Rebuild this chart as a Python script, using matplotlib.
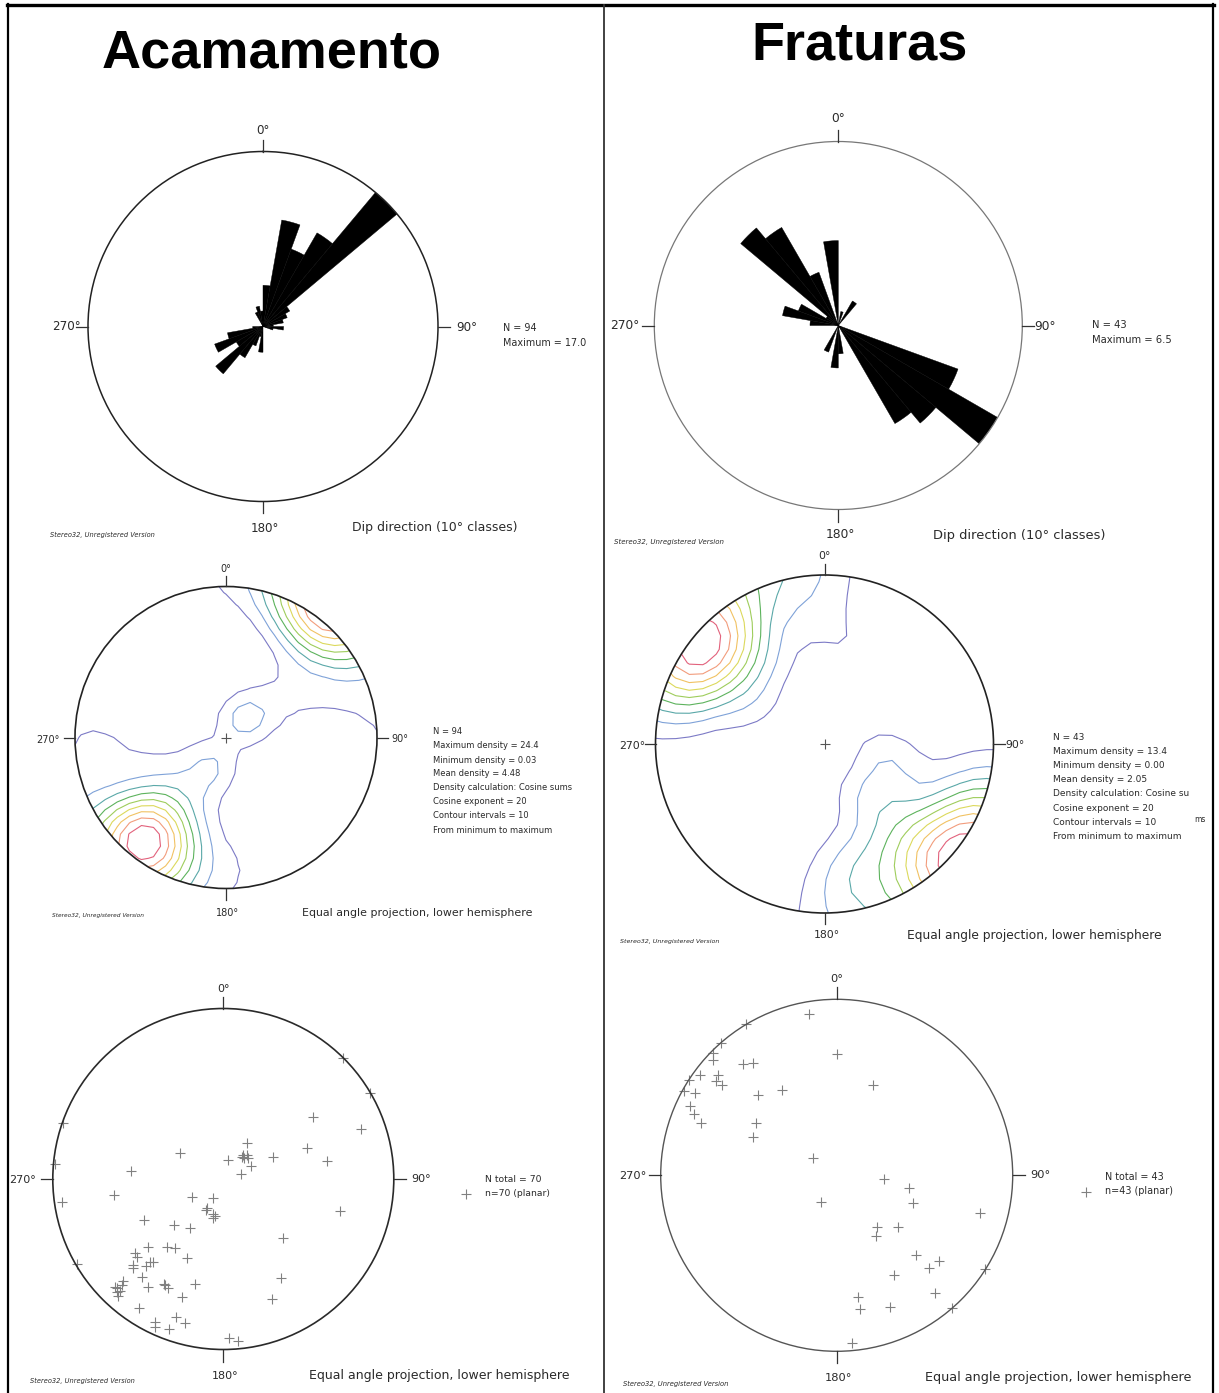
import numpy as np
import matplotlib
matplotlib.use("Agg")
import matplotlib.pyplot as plt
from matplotlib.patches import Circle
from matplotlib.lines import Line2D

W, H = 1219, 1393
DPI = 100

# ---------------------------------------------------------------- data
# dip-direction classes (10 degree bins, start of each class)
rose_bins = np.arange(0, 360, 10)

# counts per class (half counts for values on class boundaries)
bedding_dipdir_counts = [4, 10.5, 8, 10.5, 17, 3, 2.5, 2, 1, 2, 1,
                         0, 0, 0, 0, 0, 0, 0,
                         2.5, 1, 2, 3.5, 6, 3, 5, 3.5, 1,
                         0, 0, 0, 0, 0, 0,
                         1.5, 2, 1.5]
fracture_dipdir_counts = [0, 0.5, 0, 1,
                          0, 0, 0, 0, 0, 0, 0,
                          4.5, 6.5, 4.5, 4,
                          0, 0, 1, 1.5, 0, 1,
                          0, 0, 0, 0, 0, 0,
                          1, 2, 1.5, 0.5, 4.5, 4, 2, 0, 3]

# poles to planes, equal-angle lower-hemisphere net coordinates (x = E, y = N)
bedding_pole_x = [0.861, 0.70, 0.528, 0.808, 0.489, 0.611, 0.294, 0.141, 0.108, 0.137,
                  0.147, 0.029, 0.162, 0.104, -0.254, -0.542, -0.642, -0.945, -0.988, -0.94,
                  -0.182, -0.063, -0.104, -0.059, -0.063, -0.049, -0.464, -0.288, -0.196, 0.685,
                  0.352, -0.440, -0.333, -0.284, -0.215, -0.515, -0.411, -0.454, -0.528, -0.474,
                  -0.591, -0.636, -0.607, -0.616, -0.622, -0.440, -0.348, -0.325, -0.166, -0.245,
                  -0.493, -0.401, -0.401, -0.280, -0.225, -0.317, 0.033, 0.088, 0.337, 0.288,
                  -0.86, -0.532, -0.098, 0.117, -0.597, -0.342, -0.431, 0.121, -0.626, -0.509]
bedding_pole_y = [0.503, 0.71, 0.366, 0.294, 0.180, 0.108, 0.131, 0.209, 0.131, 0.141,
                  0.125, 0.112, 0.076, 0.029, 0.155, 0.047, -0.094, -0.133, 0.086, 0.33,
                  -0.108, -0.110, -0.182, -0.207, -0.231, -0.215, -0.241, -0.270, -0.290, -0.186,
                  -0.348, -0.397, -0.397, -0.403, -0.466, -0.436, -0.489, -0.509, -0.524, -0.573,
                  -0.599, -0.636, -0.658, -0.687, -0.642, -0.636, -0.613, -0.642, -0.618, -0.691,
                  -0.759, -0.838, -0.867, -0.812, -0.847, -0.877, -0.935, -0.951, -0.579, -0.705,
                  -0.50, -0.505, -0.172, 0.141, -0.622, -0.622, -0.485, 0.125, -0.661, -0.456]

# further bedding readings, used in the density count only
bedding_extra_x = [0.55, 0.60, 0.62, 0.50, 0.66, 0.56, 0.68,
                   -0.55, -0.52, -0.58, -0.50, -0.56, -0.48, -0.60, -0.45, -0.53, -0.57, -0.62,
                   0.35, 0.45, 0.25, -0.75, -0.35, -0.15]
bedding_extra_y = [0.82, 0.78, 0.74, 0.84, 0.72, 0.76, 0.66,
                   -0.75, -0.72, -0.70, -0.78, -0.66, -0.70, -0.74, -0.80, -0.76, -0.73, -0.68,
                   0.35, 0.45, 0.22, 0.02, -0.15, -0.35]

fracture_pole_x = [-0.159, 0.000, 0.209, -0.313, -0.531, -0.478, -0.702, -0.702, -0.66, -0.677,
                   -0.683, -0.649, -0.778, -0.84, -0.806, -0.87, -0.835, -0.812, -0.770, -0.450,
                   -0.459, -0.474, -0.137, -0.089, 0.266, 0.410, 0.436, 0.812, 0.228, 0.224,
                   0.351, 0.452, 0.579, 0.522, 0.326, 0.560, 0.120, 0.133, 0.304, 0.085,
                   0.845, 0.657, -0.515]
fracture_pole_y = [0.917, 0.691, 0.514, 0.486, 0.632, 0.638, 0.694, 0.657, 0.75, 0.571,
                   0.537, 0.514, 0.571, 0.54, 0.467, 0.48, 0.391, 0.347, 0.300, 0.454,
                   0.296, 0.220, 0.097, -0.154, -0.023, -0.070, -0.159, -0.216, -0.292, -0.345,
                   -0.292, -0.450, -0.486, -0.526, -0.564, -0.668, -0.691, -0.757, -0.751, -0.951,
                   -0.535, -0.754, 0.857]

bedding_density_stats = ["Maximum density = 24.4", "Minimum density = 0.03",
                         "Mean density = 4.48", "Density calculation: Cosine sums",
                         "Cosine exponent = 20", "Contour intervals = 10",
                         "From minimum to maximum"]
fracture_density_stats = ["Maximum density = 13.4", "Minimum density = 0.00",
                          "Mean density = 2.05", "Density calculation: Cosine su",
                          "Cosine exponent = 20", "Contour intervals = 10",
                          "From minimum to maximum"]

COS_EXPONENT = 20
CONTOUR_COLORS = ['#7c7ac6', '#7fa2d8', '#5aa8a8', '#5db35d', '#9fcd5c',
                  '#dcd95c', '#f1c263', '#f29c7c', '#e2627c']

NOTE = "Stereo32, Unregistered Version"

# ---------------------------------------------------------------- helpers
fig = plt.figure(figsize=(W / DPI, H / DPI), dpi=DPI)
fig.patch.set_facecolor('white')
plt.rcParams['font.family'] = ['DejaVu Sans']


def fx(x):
    return x / W


def fy(y):
    return 1 - y / H


def ptext(x, y, s, size, ha='left', va='center', **kw):
    fig.text(fx(x), fy(y), s, fontsize=size, ha=ha, va=va, **kw)


def pline(x0, y0, x1, y1, lw=1.0, color='#222222'):
    fig.add_artist(Line2D([fx(x0), fx(x1)], [fy(y0), fy(y1)],
                          transform=fig.transFigure, lw=lw, color=color))


def rect_for(cx, cy, r):
    return [fx(cx - r), fy(cy + r), 2 * r / W, 2 * r / H]


def cardinal_ticks(cx, cy, r, length, lw, color):
    pline(cx, cy - r, cx, cy - r - length, lw, color)
    pline(cx, cy + r, cx, cy + r + length, lw, color)
    pline(cx - r, cy, cx - r - length, cy, lw, color)
    pline(cx + r, cy, cx + r + length, cy, lw, color)


def net_to_vec(x, y):
    x = np.asarray(x, float)
    y = np.asarray(y, float)
    r = np.hypot(x, y)
    phi = 2 * np.arctan(r)
    az = np.arctan2(x, y)
    return np.stack([np.sin(phi) * np.sin(az), np.sin(phi) * np.cos(az), np.cos(phi)], -1)


def rose(cx, cy, r, counts, circ_color, circ_lw):
    ax = fig.add_axes(rect_for(cx, cy, r), projection='polar')
    ax.set_theta_zero_location('N')
    ax.set_theta_direction(-1)
    counts = np.asarray(counts, float)
    keep = counts > 0
    ax.bar(np.radians(rose_bins[keep] + 5), counts[keep], width=np.radians(10),
           bottom=0, color='black', edgecolor='black', linewidth=0.3, align='center')
    ax.set_ylim(0, counts.max())
    ax.set_xticks([])
    ax.set_yticks([])
    ax.grid(False)
    ax.spines['polar'].set_linewidth(circ_lw)
    ax.spines['polar'].set_color(circ_color)
    return counts


def net_axes(cx, cy, r, circ_color, circ_lw):
    ax = fig.add_axes(rect_for(cx, cy, r))
    ax.set_xlim(-1, 1)
    ax.set_ylim(-1, 1)
    ax.set_aspect('equal')
    ax.axis('off')
    circ = Circle((0, 0), 1, fill=False, ec=circ_color, lw=circ_lw, clip_on=False, zorder=5)
    ax.add_patch(circ)
    return ax


def density_contours(ax, px, py):
    g = np.linspace(-1.04, 1.04, 27)
    X, Y = np.meshgrid(g, g)
    grid = net_to_vec(X, Y)
    poles = net_to_vec(px, py)
    cosang = np.abs(grid @ poles.T)
    D = (cosang ** COS_EXPONENT).sum(-1)
    inside = np.hypot(X, Y) <= 1.0
    levels = np.linspace(D[inside].min(), D[inside].max(), 11)[1:-1]
    cs = ax.contour(X, Y, D, levels=levels, colors=CONTOUR_COLORS, linewidths=0.8)
    clip = Circle((0, 0), 1, transform=ax.transData)
    cs.set_clip_path(clip)
    ax.plot([0], [0], marker='+', ms=7, mew=0.8, color='#555555')


# ---------------------------------------------------------------- frame
pline(7, 5, 1214, 5, lw=2.4, color='black')
pline(8, 4, 8, H, lw=1.6, color='black')
pline(1213, 4, 1213, H, lw=1.6, color='black')
pline(604, 5, 604, H, lw=1.3, color='#333333')

ptext(272, 53, "Acamamento", 39, ha='center', family='Liberation Sans', weight='bold')
ptext(860, 46, "Fraturas", 39, ha='center', family='Liberation Sans', weight='bold')

TXT = '#2a2a2a'

# ---------------------------------------------------------------- rose diagrams
for (cx, cy, r, counts, ccol, clw, deg, cap, blk, note,
     lbl0, lbl270, lbl90, lbl180, capx, blkx, blky, notexy) in [
        (263, 326.5, 175, bedding_dipdir_counts, '#222222', 1.1, 8.6, 9.0, 6.9, 4.8,
         131, 66, 456, 528, 435, 503, 328, (50, 535)),
        (838.3, 325.5, 184, fracture_dipdir_counts, '#777777', 0.9, 8.8, 9.4, 7.2, 5.0,
         118, 625, 1034, 535, 1019, 1092, 325, (614, 542))]:
    c = rose(cx, cy, r, counts, ccol, clw)
    cardinal_ticks(cx, cy, r, 12, 0.9, '#333333')
    ptext(cx, lbl0, "0°", deg, ha='center', color=TXT)
    ptext(lbl270, cy, "270°", deg, ha='center', color=TXT)
    ptext(lbl90, cy + 1, "90°", deg, color=TXT)
    ptext(cx + 2, lbl180, "180°", deg, ha='center', color=TXT)
    ptext(capx, lbl180, "Dip direction (10° classes)", cap, ha='center', color=TXT)
    ptext(blkx, blky, f"N = {c.sum():.0f}", blk, color=TXT)
    ptext(blkx, blky + 15, f"Maximum = {c.max():.1f}", blk, color=TXT)
    ptext(notexy[0], notexy[1], NOTE, note, style='italic', color=TXT)

# ---------------------------------------------------------------- density contours
for (cx, cy, r, px, py, stats, deg, cap, blk, note,
     lbl0, lbl270, lbl90, lbl180, capx, blkx, blky, step, notexy) in [
        (226, 737.5, 151, bedding_pole_x + bedding_extra_x, bedding_pole_y + bedding_extra_y,
         bedding_density_stats,
         7.0, 7.9, 6.0, 4.2, 569, 48, 391, 913, 302, 433, 732, 14.0, (52, 916)),
        (824.5, 744, 169, fracture_pole_x, fracture_pole_y, fracture_density_stats,
         7.8, 8.8, 6.5, 4.6, 556, 632, 1005, 935, 907, 1053, 737, 14.2, (620, 941))]:
    ax = net_axes(cx, cy, r, '#222222', 1.2)
    density_contours(ax, px, py)
    cardinal_ticks(cx, cy, r, 11, 0.9, '#333333')
    ptext(cx, lbl0, "0°", deg, ha='center', color=TXT)
    ptext(lbl270, cy + 2, "270°", deg, ha='center', color=TXT)
    ptext(lbl90, cy + 1, "90°", deg, color=TXT)
    ptext(cx + 2, lbl180, "180°", deg, ha='center', color=TXT)
    ptext(capx, lbl180, "Equal angle projection, lower hemisphere", cap, color=TXT)
    ptext(blkx, blky, f"N = {len(px)}", blk, color=TXT)
    for i, s in enumerate(stats):
        ptext(blkx, blky + step * (i + 1), s, blk, color=TXT)
    ptext(notexy[0], notexy[1], NOTE, note, style='italic', color=TXT)

ptext(1200, 819, "ms", 5.5, ha='center', color=TXT)

# ---------------------------------------------------------------- pole plots
for (cx, cy, r, px, py, ccol, clw, deg, cap, blk, note,
     lbl0, lbl270, lbl90, lbl180, capx, legx, legy, notexy) in [
        (223.3, 1179, 170.5, bedding_pole_x, bedding_pole_y, '#2a2a2a', 1.2,
         8.0, 9.0, 6.7, 4.8, 989, 22, 411, 1376, 309, 485, 1179, (30, 1381)),
        (836.7, 1175.3, 176, fracture_pole_x, fracture_pole_y, '#555555', 1.0,
         8.2, 9.2, 6.9, 4.9, 979, 633, 1030, 1378, 925, 1105, 1177, (623, 1384))]:
    ax = net_axes(cx, cy, r, ccol, clw)
    ax.plot(px, py, ls='none', marker='+', ms=7.5, mew=0.8, color='#808080', clip_on=False)
    cardinal_ticks(cx, cy, r, 12, 0.9, '#333333')
    ptext(cx, lbl0, "0°", deg, ha='center', color=TXT)
    ptext(lbl270, cy + 1, "270°", deg, ha='center', color=TXT)
    ptext(lbl90, cy, "90°", deg, color=TXT)
    ptext(cx + 2, lbl180, "180°", deg, ha='center', color=TXT)
    ptext(capx, lbl180, "Equal angle projection, lower hemisphere", cap, color=TXT)
    n = len(px)
    ptext(legx, legy, f"N total = {n}", blk, color=TXT)
    ptext(legx, legy + 14, f"n={n} (planar)", blk, color=TXT)
    fig.add_artist(Line2D([fx(legx - 19)], [fy(legy + 15)], transform=fig.transFigure,
                          ls='none', marker='+', ms=7, mew=0.8, color='#808080'))
    ptext(notexy[0], notexy[1], NOTE, note, style='italic', color=TXT)

fig.savefig("out.png", dpi=DPI, facecolor='white')
